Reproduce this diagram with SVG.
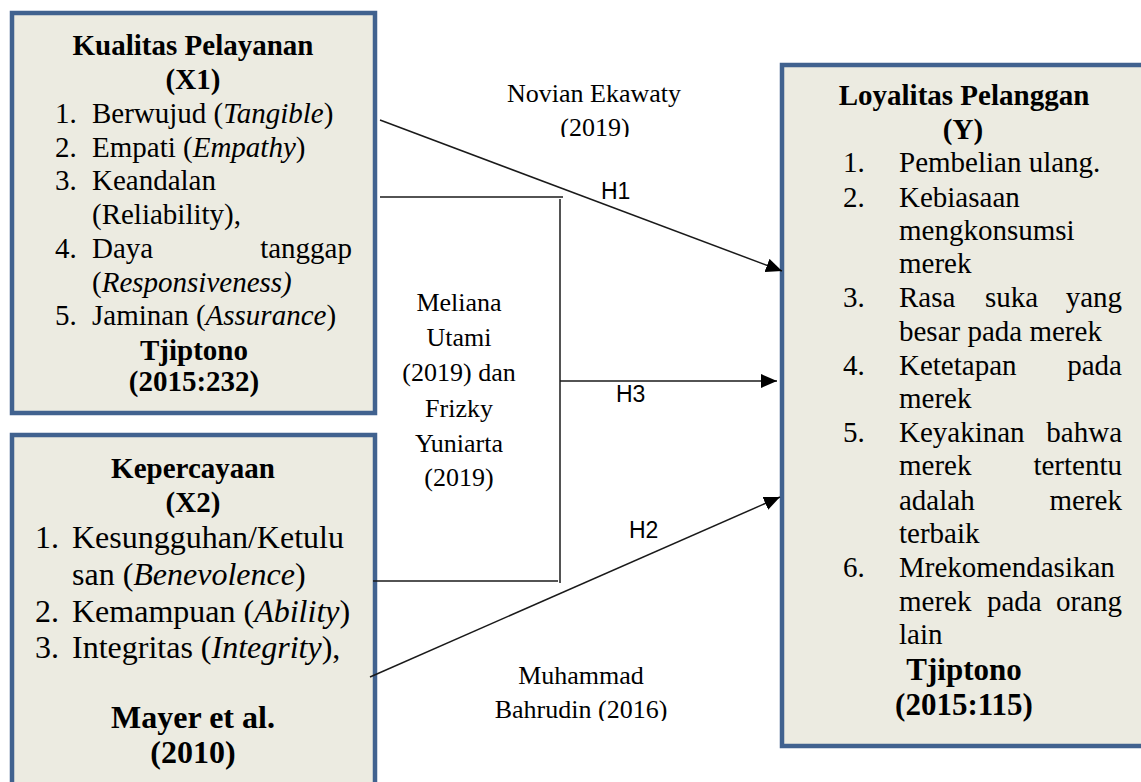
<svg xmlns="http://www.w3.org/2000/svg" width="1141" height="782" viewBox="0 0 1141 782">
<style>
.box{fill:#ecebe1;stroke:#41628f;stroke-width:4.5}
.t{font-family:"Liberation Serif","Times New Roman",serif;fill:#000}
.b{font-weight:bold}
.c{text-anchor:middle}
.e{text-anchor:end}
.h{font-family:"Liberation Sans",Arial,sans-serif;font-size:23px;fill:#000}
.ln{stroke:#1a1a1a;stroke-width:1.5;fill:none}
</style>
<defs>
<marker id="arr" markerUnits="userSpaceOnUse" markerWidth="18" markerHeight="14" refX="16" refY="7" orient="auto">
<path d="M0,0 L16,7 L0,14 Z" fill="#000"/>
</marker>
<clipPath id="clipTop"><rect x="440" y="60" width="320" height="77"/></clipPath>
<clipPath id="clipBot"><rect x="440" y="650" width="320" height="71"/></clipPath>
</defs>
<rect width="1141" height="782" fill="#fff"/>

<g id="x1">
<rect class="box" x="12" y="13" width="363" height="400"/>
<g class="t" font-size="29">
<text class="b c" x="193" y="55">Kualitas Pelayanan</text>
<text class="b c" x="193" y="89">(X1)</text>
<text x="55" y="123">1.</text><text x="92" y="123">Berwujud (<tspan font-style="italic">Tangible</tspan>)</text>
<text x="55" y="157">2.</text><text x="92" y="157">Empati (<tspan font-style="italic">Empathy</tspan>)</text>
<text x="55" y="190">3.</text><text x="92" y="190">Keandalan</text>
<text x="92" y="224">(Reliability),</text>
<text x="55" y="258">4.</text><text x="92" y="258">Daya</text><text class="e" x="352" y="258">tanggap</text>
<text x="92" y="292">(<tspan font-style="italic">Responsiveness)</tspan></text>
<text x="55" y="325">5.</text><text x="92" y="325">Jaminan (<tspan font-style="italic">Assurance</tspan>)</text>
<text class="b c" x="194" y="360">Tjiptono</text>
<text class="b c" x="194" y="391">(2015:232)</text>
</g>
</g>

<g id="x2">
<rect class="box" x="12" y="435" width="363" height="370"/>
<g class="t">
<text class="b c" x="193" y="478" font-size="29">Kepercayaan</text>
<text class="b c" x="193" y="512" font-size="29">(X2)</text>
<g font-size="32">
<text x="35" y="548">1.</text><text x="72" y="548">Kesungguhan/Ketulu</text>
<text x="72" y="585">san (<tspan font-style="italic">Benevolence</tspan>)</text>
<text x="35" y="622">2.</text><text x="72" y="622">Kemampuan (<tspan font-style="italic">Ability</tspan>)</text>
<text x="35" y="658">3.</text><text x="72" y="658">Integritas (<tspan font-style="italic">Integrity</tspan>),</text>
<text class="b c" x="193" y="728">Mayer et al.</text>
<text class="b c" x="193" y="763">(2010)</text>
</g>
</g>
</g>

<g id="y">
<rect class="box" x="782" y="65" width="400" height="681"/>
<g class="t" font-size="29">
<text class="b c" x="964" y="105">Loyalitas Pelanggan</text>
<text class="b c" x="963" y="139">(Y)</text>
<text x="843" y="172">1.</text><text x="899" y="172">Pembelian ulang.</text>
<text x="843" y="207">2.</text><text x="899" y="207">Kebiasaan</text>
<text x="899" y="240">mengkonsumsi</text>
<text x="899" y="273">merek</text>
<text x="843" y="307">3.</text><text x="899" y="307">Rasa</text><text x="985" y="307">suka</text><text class="e" x="1122" y="307">yang</text>
<text x="899" y="341">besar pada merek</text>
<text x="843" y="375">4.</text><text x="899" y="375">Ketetapan</text><text class="e" x="1122" y="375">pada</text>
<text x="899" y="408">merek</text>
<text x="843" y="442">5.</text><text x="899" y="442">Keyakinan</text><text class="e" x="1122" y="442">bahwa</text>
<text x="899" y="475">merek</text><text class="e" x="1122" y="475">tertentu</text>
<text x="899" y="510">adalah</text><text class="e" x="1122" y="510">merek</text>
<text x="899" y="543">terbaik</text>
<text x="843" y="577">6.</text><text x="899" y="577">Mrekomendasikan</text>
<text x="899" y="611">merek</text><text x="987" y="611">pada</text><text class="e" x="1122" y="611">orang</text>
<text x="899" y="644">lain</text>
<text class="b c" x="964" y="680" font-size="31">Tjiptono</text>
<text class="b c" x="964" y="715" font-size="31">(2015:115)</text>
</g>
</g>

<g id="connectors">
<line class="ln" x1="380" y1="120" x2="782" y2="271" marker-end="url(#arr)"/>
<line class="ln" x1="380" y1="197" x2="563" y2="197"/>
<line class="ln" x1="560" y1="199" x2="560" y2="583"/>
<line class="ln" x1="560" y1="381" x2="777" y2="381" marker-end="url(#arr)"/>
<line class="ln" x1="373" y1="581" x2="558" y2="581"/>
<line class="ln" x1="370" y1="677" x2="780" y2="497" marker-end="url(#arr)"/>
</g>

<g id="labels">
<text class="h" x="601" y="199">H1</text>
<text class="h" x="616" y="402">H3</text>
<text class="h" x="629" y="538">H2</text>
<g class="t c" font-size="26">
<g clip-path="url(#clipTop)">
<text x="594" y="102">Novian Ekawaty</text>
<text x="595" y="136">(2019)</text>
</g>
<text x="459" y="311">Meliana</text>
<text x="459" y="346">Utami</text>
<text x="459" y="381">(2019) dan</text>
<text x="459" y="417">Frizky</text>
<text x="459" y="452">Yuniarta</text>
<text x="459" y="486">(2019)</text>
<g clip-path="url(#clipBot)">
<text x="581" y="684">Muhammad</text>
<text x="581" y="718">Bahrudin (2016)</text>
</g>
</g>
</g>
</svg>
